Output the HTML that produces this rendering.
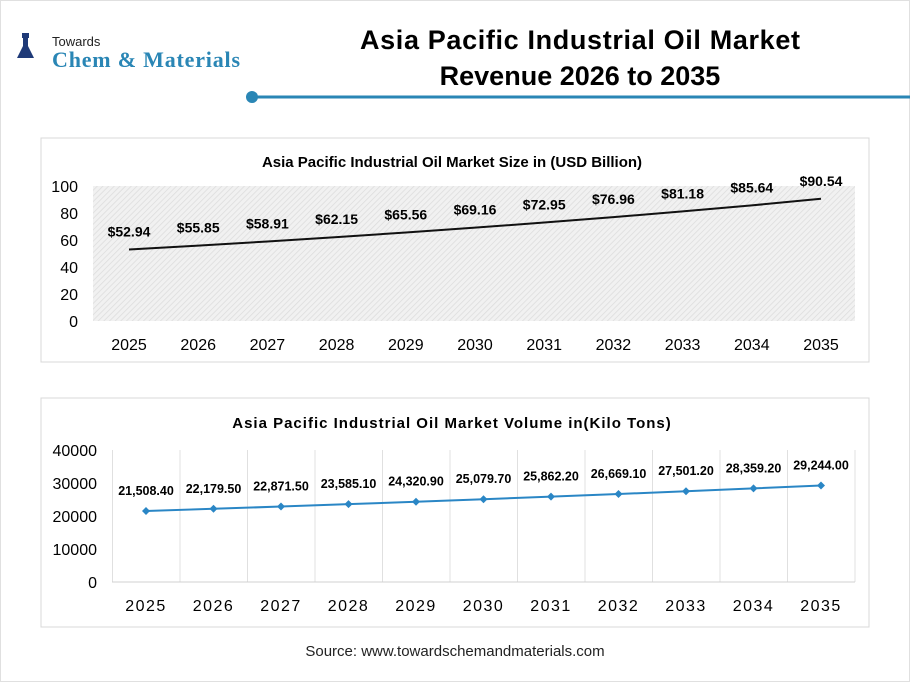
<!DOCTYPE html>
<html><head><meta charset="utf-8"><style>
body{margin:0;background:#fff;width:910px;height:682px;overflow:hidden;font-family:"Liberation Sans",sans-serif}
</style></head><body>
<svg width="910" height="682" xmlns="http://www.w3.org/2000/svg">
<defs>
<pattern id="hatch" width="4" height="4" patternUnits="userSpaceOnUse" patternTransform="rotate(45)">
<rect width="4" height="4" fill="#f1f1f1"/><line x1="0" y1="0" x2="0" y2="4" stroke="#dcdcdc" stroke-width="1.5"/>
</pattern>
</defs>
<rect x="0.5" y="0.5" width="909" height="681" fill="#fff" stroke="#e0e0e0"/>
<g>
<rect x="22" y="33" width="7" height="5" fill="#1f3a78"/>
<path d="M23 38 h5 v8 l6 12 h-17 l6 -12z" fill="#1f3a78"/>
<text x="52" y="46" font-size="13" fill="#222">Towards</text>
<text x="52" y="67" font-size="22" font-weight="bold" fill="#2a86b5" font-family="Liberation Serif,serif" textLength="188">Chem &amp; Materials</text>
</g>
<text x="580" y="49" text-anchor="middle" font-size="27" font-weight="bold" fill="#000" textLength="440">Asia Pacific Industrial Oil Market</text>
<text x="580" y="85" text-anchor="middle" font-size="27" font-weight="bold" fill="#000">Revenue 2026 to 2035</text>
<line x1="252" y1="97" x2="910" y2="97" stroke="#2a86b5" stroke-width="3"/>
<circle cx="252" cy="97" r="6" fill="#2a86b5"/>

<rect x="41" y="138" width="828" height="224" fill="#fff" stroke="#d8d8d8"/>
<text x="452" y="167" text-anchor="middle" font-size="15" font-weight="bold">Asia Pacific Industrial Oil Market Size in (USD Billion)</text>
<rect x="93" y="186" width="762" height="135" fill="url(#hatch)"/>
<g id="c1"></g>

<rect x="41" y="398" width="828" height="229" fill="#fff" stroke="#d8d8d8"/>
<text x="452" y="428" text-anchor="middle" font-size="15" font-weight="bold" letter-spacing="1">Asia Pacific Industrial Oil Market Volume in(Kilo Tons)</text>
<g id="c2"></g>
<text x="455" y="656" text-anchor="middle" font-size="15" fill="#222">Source: www.towardschemandmaterials.com</text>
</svg>
<script>
const years=["2025","2026","2027","2028","2029","2030","2031","2032","2033","2034","2035"];
const sizeValues=[52.94,55.85,58.91,62.15,65.56,69.16,72.95,76.96,81.18,85.64,90.54];
const sizeLabels=["$52.94","$55.85","$58.91","$62.15","$65.56","$69.16","$72.95","$76.96","$81.18","$85.64","$90.54"];
const sizeTicks=[0,20,40,60,80,100];
const volValues=[21508.4,22179.5,22871.5,23585.1,24320.9,25079.7,25862.2,26669.1,27501.2,28359.2,29244.0];
const volLabels=["21,508.40","22,179.50","22,871.50","23,585.10","24,320.90","25,079.70","25,862.20","26,669.10","27,501.20","28,359.20","29,244.00"];
const volTicks=[0,10000,20000,30000,40000];
const NS="http://www.w3.org/2000/svg";
function mk(p,t,a,txt){const e=document.createElementNS(NS,t);for(const k in a)e.setAttribute(k,a[k]);if(txt!==undefined)e.textContent=txt;p.appendChild(e);return e;}
// chart 1
(function(){
const g=document.getElementById('c1');
const x=i=>129+i*69.2, y=v=>321-v/100*135;
sizeTicks.forEach(t=>{const e=mk(g,'text',{x:78,y:y(t)+6,'text-anchor':'end','font-size':16},t);

});
years.forEach((yr,i)=>{const e=mk(g,'text',{x:x(i),y:350,'text-anchor':'middle','font-size':16},yr);

});
const l=mk(g,'polyline',{points:sizeValues.map((v,i)=>x(i)+','+y(v)).join(' '),fill:'none',stroke:'#111','stroke-width':2});


sizeValues.forEach((v,i)=>{const e=mk(g,'text',{x:x(i),y:y(v)-13,'text-anchor':'middle','font-size':14,'font-weight':'bold'},sizeLabels[i]);

});
})();
// chart 2
(function(){
const g=document.getElementById('c2');
const x=i=>146+i*67.5, y=v=>582-v/40000*132;
for(let i=0;i<=years.length;i++){const gx=112.5+i*67.5;const e=mk(g,'line',{x1:gx,x2:gx,y1:450,y2:582,stroke:'#e0e0e0'});

}
mk(g,'line',{x1:112,x2:855,y1:582,y2:582,stroke:'#d0d0d0'});
volTicks.forEach(t=>{const e=mk(g,'text',{x:97,y:y(t)+6,'text-anchor':'end','font-size':16},t);

});
years.forEach((yr,i)=>{const e=mk(g,'text',{x:x(i),y:611,'text-anchor':'middle','font-size':16,'letter-spacing':1.5},yr);

});
const l=mk(g,'polyline',{points:volValues.map((v,i)=>x(i)+','+y(v)).join(' '),fill:'none',stroke:'#2a86c5','stroke-width':2});


volValues.forEach((v,i)=>{const cx=x(i),cy=y(v);
const m=mk(g,'path',{d:`M${cx} ${cy-4}L${cx+4} ${cy}L${cx} ${cy+4}L${cx-4} ${cy}Z`,fill:'#2a86c5'});


const e=mk(g,'text',{x:cx,y:cy-16,'text-anchor':'middle','font-size':12.5,'font-weight':'bold'},volLabels[i]);

});
})();
</script>
</body></html>
